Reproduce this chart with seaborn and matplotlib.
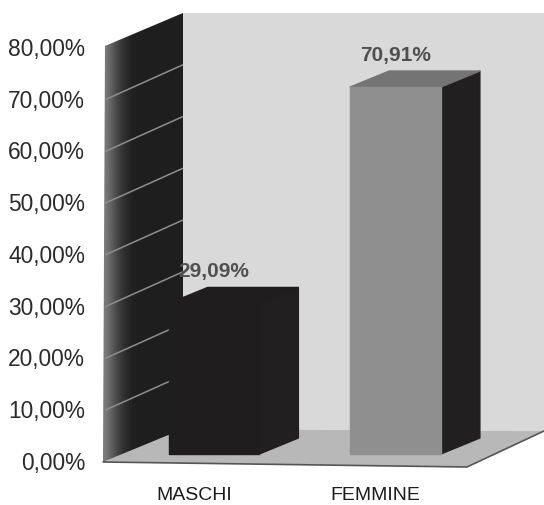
import numpy as np
import pandas as pd
import matplotlib
matplotlib.use("Agg")
import matplotlib.pyplot as plt
from matplotlib.patches import Polygon
from matplotlib.transforms import Affine2D
import seaborn as sns

categories = ["MASCHI", "FEMMINE"]
shares = [29.09, 70.91]
bar_labels = ["29,09%", "70,91%"]
y_ticks = [0, 10, 20, 30, 40, 50, 60, 70, 80]
y_tick_labels = ["0,00%", "10,00%", "20,00%", "30,00%", "40,00%",
                 "50,00%", "60,00%", "70,00%", "80,00%"]

front_colors = {"MASCHI": "#1f1d1e", "FEMMINE": "#8f8f8f"}
top_colors = {"MASCHI": "#1f1d1e", "FEMMINE": "#747474"}
SIDE_COLOR = "#211f20"
WALL_COLOR = "#d9d9d9"
FLOOR_COLOR = "#b8b8b8"
GRID_COLOR = "#8e8e8e"

W, H = 544, 506
DPI = 100

sns.set_theme(style="white")
plt.rcParams["font.family"] = ["Liberation Sans", "DejaVu Sans"]

fig = plt.figure(figsize=(W / DPI, H / DPI), dpi=DPI, facecolor="white")

# Pixel-space layer holding the box of the 3D scene: back wall, floor, side wall
scene = fig.add_axes([0, 0, 1, 1], zorder=0)
scene.set_xlim(0, W)
scene.set_ylim(H, 0)
scene.axis("off")

scene.add_patch(Polygon([(183, 14), (544, 14), (544, 432), (183, 430)],
                        closed=True, fc=WALL_COLOR, ec="none"))
scene.add_patch(Polygon([(103, 463), (183, 430), (544, 432), (467, 468)],
                        closed=True, fc=FLOOR_COLOR, ec="none"))
scene.plot([103, 467, 544], [463, 468, 432], color="#555555", lw=1.2)

# Side wall: near-black, fading to grey at its front edge
side_wall = Polygon([(105, 47), (183, 14), (183, 430), (103, 463)],
                    closed=True, fc="none", ec="none")
scene.add_patch(side_wall)
fade = np.array([[0.48, 0.42, 0.35, 0.28, 0.22, 0.18, 0.15, 0.13] + [0.12] * 12])
image = scene.imshow(fade, cmap="gray", vmin=0, vmax=1, aspect="auto",
                     extent=(103, 183, 463, 14), interpolation="bilinear", zorder=1)
image.set_clip_path(side_wall)
scene.set_xlim(0, W)
scene.set_ylim(H, 0)

# Main axes: the front plane of the chart, 0 at the floor edge and 80 at the wall top
px_per_unit = (463 - 49) / 80
ax = fig.add_axes([105 / W, (H - 463) / H, (467 - 105) / W, (463 - 49) / H], zorder=2)
ax.patch.set_alpha(0)

data = pd.DataFrame({"category": categories, "share": shares})
sns.barplot(data=data, x="category", y="share", hue="category",
            palette=front_colors, width=0.5, legend=False, ax=ax,
            order=categories, hue_order=categories, saturation=1)

ax.set_ylim(0, 80)
ax.set_xlim(-(214 - 105) / 181.5, (467 - 214) / 181.5)
ax.set_xlabel("")
ax.set_ylabel("")
sns.despine(ax=ax, left=True, bottom=True)

# Grid lines run across the side wall, from the value scale to the back edge
for tick in y_ticks[1:-1]:
    y_front = 463 - tick * px_per_unit
    scene.plot([105, 183], [y_front, y_front - 35], color=GRID_COLOR, lw=1.1,
               solid_capstyle="butt", zorder=2)

ax.set_yticks(y_ticks, y_tick_labels)
ax.tick_params(axis="y", length=0, pad=14.4, labelsize=16.4, labelcolor="#2b2b2b")
ax.tick_params(axis="x", length=0, pad=17, labelsize=14, labelcolor="#1c1c1c")
for label in ax.get_yticklabels():
    label.set_transform(label.get_transform() + Affine2D().translate(0, 2))
for label in ax.get_xticklabels():
    label.set_transform(label.get_transform() + Affine2D().translate(-20, 0))

# Bars stand behind the front plane, so shift them up the floor and extrude their depth
bar_shift = Affine2D().translate(0, 8)
DEPTH_X, DEPTH_Y = 39, 16
bars = list(ax.patches)
for bar, name, value, text in zip(bars, categories, shares, bar_labels):
    x0, x1 = bar.get_x(), bar.get_x() + bar.get_width()
    to_px = ax.transData + bar_shift
    bar.set_transform(to_px)
    bar.set_zorder(3)
    bar.set_edgecolor(front_colors[name])
    bar.set_linewidth(1.0)
    bar.set_joinstyle("round")

    (lx, by), (rx, ty) = to_px.transform([(x0, 0), (x1, value)])
    depth = Affine2D()
    side = Polygon([(rx, by), (rx + DEPTH_X, by + DEPTH_Y),
                    (rx + DEPTH_X, ty + DEPTH_Y), (rx, ty)],
                   closed=True, fc=SIDE_COLOR, ec=SIDE_COLOR, lw=1.0,
                   joinstyle="round", transform=depth, zorder=2.5, clip_on=False)
    top = Polygon([(lx, ty), (rx, ty), (rx + DEPTH_X, ty + DEPTH_Y),
                   (lx + DEPTH_X, ty + DEPTH_Y)],
                  closed=True, fc=top_colors[name], ec=top_colors[name], lw=1.0,
                  joinstyle="round", transform=depth, zorder=2.5, clip_on=False)
    ax.add_patch(side)
    ax.add_patch(top)

    ax.annotate(text, xy=((x0 + x1) / 2, value), xytext=(0, 29.5),
                textcoords="offset points", ha="center", va="center",
                fontsize=15, color="#505050", fontweight="bold",
                annotation_clip=False, zorder=5)

fig.savefig("out.png", dpi=DPI, facecolor="white")
